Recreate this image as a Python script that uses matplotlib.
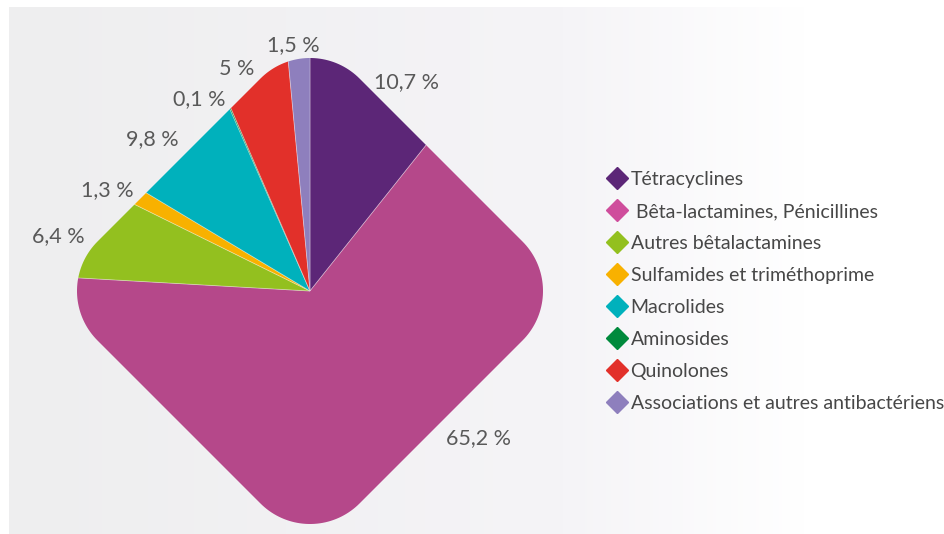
import numpy as np
import matplotlib
matplotlib.use("Agg")
import matplotlib.pyplot as plt
from matplotlib.patches import PathPatch
from matplotlib.path import Path
from matplotlib.lines import Line2D
from matplotlib.colors import to_rgb

# Antibiotic families and their share of sales (%)
categories = [
    "Tétracyclines",
    " Bêta-lactamines, Pénicillines",
    "Autres bêtalactamines",
    "Sulfamides et triméthoprime",
    "Macrolides",
    "Aminosides",
    "Quinolones",
    "Associations et autres antibactériens",
]
shares = [10.7, 65.2, 6.4, 1.3, 9.8, 0.1, 5.0, 1.5]
value_labels = ["10,7 %", "65,2 %", "6,4 %", "1,3 %", "9,8 %", "0,1 %", "5 %", "1,5 %"]
colors = ["#5c2677", "#b5488a", "#93c01f", "#f8b100",
          "#00b1bc", "#008a3c", "#e2302a", "#8e7fbd"]
legend_colors = ["#5c2677", "#cf4d9c", "#93c01f", "#f8b100",
                 "#00b1bc", "#008a3c", "#e2302a", "#8e7fbd"]

W, H = 944, 534
fig = plt.figure(figsize=(W / 100, H / 100), dpi=100)
fig.patch.set_facecolor("white")
ax = fig.add_axes([0, 0, 1, 1])

# soft grey backdrop fading to white on the right
xs = np.linspace(0, 1, 400)
c0, c1, c2 = np.array(to_rgb("#eeeeef")), np.array(to_rgb("#f5f4f7")), np.array(to_rgb("#ffffff"))
grad = np.empty((1, xs.size, 3))
for i, t in enumerate(xs):
    x = 9 + t * (W - 9)
    if x < 560:
        k = (x - 9) / (560 - 9)
        grad[0, i] = c0 + (c1 - c0) * k
    else:
        k = min(1.0, (x - 560) / (800 - 560))
        grad[0, i] = c1 + (c2 - c1) * k
ax.imshow(grad, extent=(9, W + 5, -5, H - 7), aspect="auto", zorder=0)


def rounded_diamond(cx, cy, half, r, n=40):
    """Square of half-side `half`, corners rounded by `r`, turned 45 degrees."""
    pts = []
    inner = half - r
    for k, (sx, sy) in enumerate([(1, 1), (-1, 1), (-1, -1), (1, -1)]):
        a0 = np.pi / 2 * k
        for a in np.linspace(a0, a0 + np.pi / 2, n):
            pts.append((sx * inner + r * np.cos(a), sy * inner + r * np.sin(a)))
    pts = np.array(pts)
    c, s = np.cos(np.pi / 4), np.sin(np.pi / 4)
    rot = np.column_stack([pts[:, 0] * c - pts[:, 1] * s,
                           pts[:, 0] * s + pts[:, 1] * c])
    rot += (cx, cy)
    return Path(np.vstack([rot, rot[:1]]), closed=True)


# pie clipped to a rounded diamond
cx, cy = 310, H - 291
half = 262 / np.sqrt(2)
corner = 70
wedges, _ = ax.pie(shares, colors=colors, startangle=90, counterclock=False,
                   radius=420, center=(cx, cy),
                   wedgeprops=dict(linewidth=0.6, edgecolor=(1, 1, 1, 0.35)))
shape = PathPatch(rounded_diamond(cx, cy, half, corner), facecolor="none",
                  edgecolor="none", transform=ax.transData)
ax.add_patch(shape)
for w in wedges:
    w.set_zorder(2)
    w.set_clip_on(True)
    w.set_clip_path(shape)

# value labels around the shape
label_xy = [(407, 82), (479, 438), (58, 236), (107, 190),
            (152, 139), (199, 99), (237, 69), (293, 45)]
for txt, (lx, ly) in zip(value_labels, label_xy):
    ax.text(lx, H - ly, txt, ha="center", va="center", fontsize=15.5,
            family="Lato", color="#595959", zorder=3)

# legend with diamond markers
handles = [Line2D([], [], ls="none", marker="D", markersize=11,
                  markerfacecolor=c, markeredgecolor=c) for c in legend_colors]
leg = ax.legend(handles, categories, loc="upper left",
                bbox_to_anchor=(609 / W, 1 - 171 / H), frameon=False,
                prop=dict(family="Lato", size=14), labelcolor="#474747",
                handlelength=0.78, handletextpad=0.33, labelspacing=0.77,
                borderaxespad=0, borderpad=0)

ax.set_xlim(0, W)
ax.set_ylim(0, H)
ax.set_aspect("auto")
ax.axis("off")

fig.savefig("out.png", dpi=100, facecolor="white")
